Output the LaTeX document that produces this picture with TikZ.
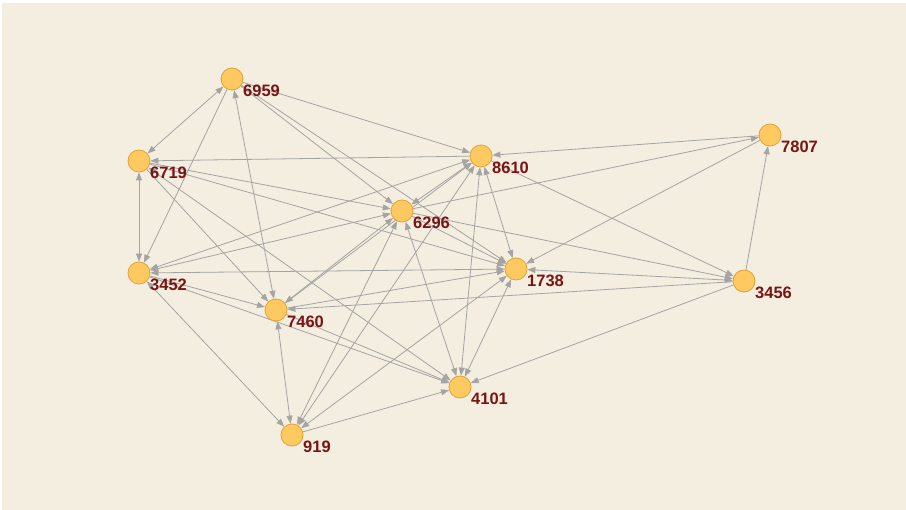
\documentclass[tikz,border=0pt]{standalone}
\usepackage{fontspec}
\setmainfont{Liberation Sans}
\usetikzlibrary{arrows.meta}
\definecolor{bgc}{HTML}{F3EEDF}
\definecolor{nodef}{HTML}{FFC962}
\definecolor{nodeb}{HTML}{E3A235}
\definecolor{labc}{HTML}{7A1414}
\definecolor{edgec}{HTML}{A4A4A4}
\pgfdeclarelayer{bg}
\pgfsetlayers{bg,main}
\tikzset{
  vert/.style={circle, fill=nodef, draw=nodeb, line width=0.8pt, minimum size=22pt, inner sep=0pt},
  lab/.style={anchor=west, inner sep=0pt, text=labc, font=\fontsize{16.5}{17}\selectfont\bfseries},
  edge/.style={draw=edgec, line width=0.8pt, -{Triangle[length=8pt,width=6pt]}},
  bi/.style={draw=edgec, line width=0.8pt, {Triangle[length=8pt,width=6pt]}-{Triangle[length=8pt,width=6pt]}}
}
\begin{document}
\begin{tikzpicture}[x=1pt,y=-1pt]
\begin{pgfonlayer}{bg}
\fill[white] (0,0) rectangle (906,510);
\fill[bgc] (2,3) rectangle (906,510);
\end{pgfonlayer}
\useasboundingbox (0,0) rectangle (906,510);
% nodes
\node[vert] (n6959) at (232,79) {};
\node[vert] (n6719) at (139,161) {};
\node[vert] (n8610) at (481,156) {};
\node[vert] (n7807) at (770,135) {};
\node[vert] (n6296) at (402,211) {};
\node[vert] (n3452) at (139,273) {};
\node[vert] (n1738) at (516,269) {};
\node[vert] (n3456) at (744,281) {};
\node[vert] (n7460) at (276,310) {};
\node[vert] (n4101) at (460,387) {};
\node[vert] (n919) at (292,435) {};
% labels
\node[lab] (l6959) at (243,91) {6959};
\node[lab] (l6719) at (150,173) {6719};
\node[lab] (l8610) at (492,168) {8610};
\node[lab] (l7807) at (781,147) {7807};
\node[lab] (l6296) at (413,223) {6296};
\node[lab] (l3452) at (150,285) {3452};
\node[lab] (l1738) at (527,281) {1738};
\node[lab] (l3456) at (755,293) {3456};
\node[lab] (l7460) at (287,322) {7460};
\node[lab] (l4101) at (471,399) {4101};
\node[lab] (l919) at (303,447) {919};
% edges
\begin{pgfonlayer}{bg}
\draw[bi] (n6959) -- (n6719);
\draw[edge] (n6959) -- (n3452);
\draw[bi] (n6959) -- (n7460);
\draw[edge] (n6959) -- (n8610);
\draw[edge] (n6959) -- (n6296);
\draw[edge] (n6959) -- (n1738);
\draw[bi] (n6719) -- (n3452);
\draw[edge] (n8610) -- (n6719);
\draw[edge] (n6719) -- (n6296);
\draw[edge] (n6719) -- (n1738);
\draw[edge] (n6719) -- (n7460);
\draw[bi] (n6719) -- (n4101);
\draw[edge] (n7807) -- (n8610);
\draw[edge] (n8610) -- (n3456);
\draw[bi] (n8610) -- (n1738);
\draw[bi] (n8610) -- (n4101);
\draw[bi] (n6296) -- (n8610);
\draw[bi] (n3452) -- (n8610);
\draw[edge] (n7460) -- (n8610);
\draw[bi] (n919) -- (n8610);
\draw[edge] (n6296) -- (n7807);
\draw[edge] (n7807) -- (n1738);
\draw[edge] (n3456) -- (n7807);
\draw[edge] (n6296) -- (n3456);
\draw[bi] (n3456) -- (n1738);
\draw[edge] (n3456) -- (n7460);
\draw[edge] (n7460) -- (n1738);
\draw[bi] (n1738) -- (n4101);
\draw[bi] (n919) -- (n1738);
\draw[bi] (n3452) -- (n1738);
\draw[edge] (n6296) -- (n1738);
\draw[bi] (n3452) -- (n6296);
\draw[edge] (n3452) -- (n7460);
\draw[bi] (n3452) -- (n919);
\draw[edge] (n3452) -- (n4101);
\draw[edge] (n7460) -- (n4101);
\draw[bi] (n919) -- (n7460);
\draw[edge] (n919) -- (n4101);
\draw[bi] (n6296) -- (n919);
\draw[bi] (n4101) -- (n6296);
\draw[bi] (n7460) -- (n6296);
\draw[edge] (n3456) -- (n4101);
\end{pgfonlayer}
\end{tikzpicture}
\end{document}
